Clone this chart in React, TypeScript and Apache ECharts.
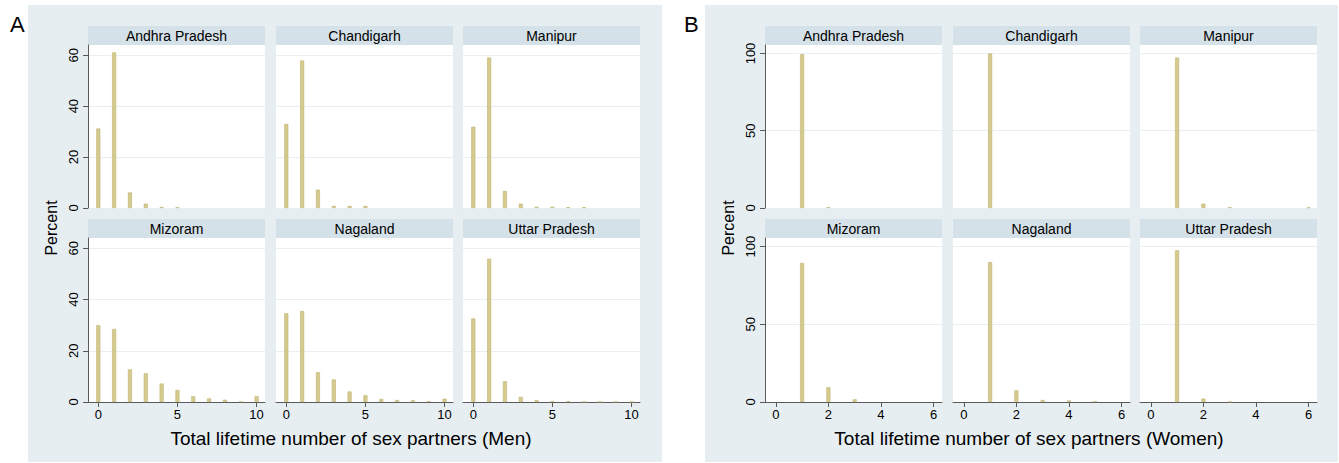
import React, { useEffect, useRef } from 'react';
import * as echarts from 'echarts';

// ---------- data ----------
const states = ['Andhra Pradesh', 'Chandigarh', 'Manipur', 'Mizoram', 'Nagaland', 'Uttar Pradesh'];

const menXTicks = [0, 5, 10];
const menYTicks = [0, 20, 40, 60];
const womenXTicks = [0, 2, 4, 6];
const womenYTicks = [0, 50, 100];

// Percent by number of partners (index = number of partners)
const menAndhraPradesh = [31.2, 61.1, 6.1, 1.7, 0.4, 0.3];
const menChandigarh = [33.0, 57.9, 7.2, 0.8, 0.8, 0.8];
const menManipur = [31.9, 59.1, 6.7, 1.7, 0.5, 0.5, 0.3, 0.3];
const menMizoram = [30.0, 28.5, 12.7, 11.2, 7.2, 4.7, 2.2, 1.4, 0.9, 0.2, 2.3];
const menNagaland = [34.6, 35.5, 11.6, 8.8, 4.1, 2.6, 1.2, 0.8, 0.7, 0.3, 1.3];
const menUttarPradesh = [32.6, 55.9, 8.1, 2.0, 0.7, 0.3, 0.3, 0.1, 0.1, 0.1, 0.1];

const womenAndhraPradesh = [0, 99.5, 0.5];
const womenChandigarh = [0, 100];
const womenManipur = [0, 97.4, 2.8, 0.5, 0, 0, 0.4];
const womenMizoram = [0, 89.5, 9.5, 1.7];
const womenNagaland = [0, 90.0, 7.5, 1.3, 1.0, 0.5];
const womenUttarPradesh = [0, 97.6, 2.2, 0.2];

const menData = [menAndhraPradesh, menChandigarh, menManipur, menMizoram, menNagaland, menUttarPradesh];
const womenData = [womenAndhraPradesh, womenChandigarh, womenManipur, womenMizoram, womenNagaland, womenUttarPradesh];

const FONT = '"Liberation Sans", Arial, Helvetica, sans-serif';

export default function App() {
  const ref = useRef<HTMLDivElement>(null);

  useEffect(() => {
    if (!ref.current) return;
    const chart = echarts.init(ref.current, undefined, { renderer: 'svg' });

    const colsA = [88, 276, 463];
    const colsB = [765, 953, 1140];
    const plotW = 177;
    const rowTops = [45, 238];
    const rowH = [163, 164];
    const headerH = 19;

    const grids: any[] = [];
    const xAxes: any[] = [];
    const yAxes: any[] = [];
    const series: any[] = [];
    const graphics: any[] = [];

    // panel backgrounds
    graphics.push({ type: 'rect', z: -10, shape: { x: 28, y: 5, width: 634, height: 457 }, style: { fill: '#e6eef2' } });
    graphics.push({ type: 'rect', z: -10, shape: { x: 705, y: 5, width: 633, height: 457 }, style: { fill: '#e6eef2' } });
    graphics.push({ type: 'text', x: 10, y: 13, style: { text: 'A', font: `22px ${FONT}`, fill: '#000' } });
    graphics.push({ type: 'text', x: 684, y: 13, style: { text: 'B', font: `22px ${FONT}`, fill: '#000' } });

    const panels = [
      { cols: colsA, data: menData, xMin: -0.65, xMax: 10.53, xTicks: menXTicks, yMax: 64, yInt: 20, yTicks: menYTicks },
      { cols: colsB, data: womenData, xMin: -0.41, xMax: 6.32, xTicks: womenXTicks, yMax: 105.5, yInt: 50, yTicks: womenYTicks },
    ];

    panels.forEach((p) => {
      for (let i = 0; i < 6; i++) {
        const r = Math.floor(i / 3);
        const c = i % 3;
        const left = p.cols[c];
        const top = rowTops[r];
        const idx = grids.length;
        grids.push({
          left, top, width: plotW, height: rowH[r],
          show: true, backgroundColor: '#ffffff', borderWidth: 0, containLabel: false,
        });
        // header strip
        graphics.push({ type: 'rect', z: -5, shape: { x: left, y: top - headerH, width: plotW, height: headerH }, style: { fill: '#d5e1e8' } });
        graphics.push({
          type: 'text', z: 5, x: left + plotW / 2, y: top - headerH / 2 + 0.5,
          style: { text: states[i], font: `14px ${FONT}`, fill: '#000', align: 'center', verticalAlign: 'middle' },
        });
        const bottomRow = r === 1;
        const leftCol = c === 0;
        if (leftCol) {
          graphics.push({
            type: 'line', z: 50, silent: true,
            shape: { x1: left + 0.5, y1: top, x2: left + 0.5, y2: top + rowH[r] },
            style: { stroke: '#5a5a5a', lineWidth: 1 },
          });
        }
        xAxes.push({
          gridIndex: idx, type: 'value', min: p.xMin, max: p.xMax,
          show: bottomRow,
          axisLine: { show: true, onZero: false, lineStyle: { color: '#5a5a5a', width: 1 } },
          axisTick: { show: true, length: 5, customValues: p.xTicks, lineStyle: { color: '#5a5a5a' } },
          axisLabel: { show: true, customValues: p.xTicks, color: '#000', fontSize: 13, fontFamily: FONT, margin: 6 },
          splitLine: { show: false },
        });
        yAxes.push({
          gridIndex: idx, type: 'value', min: 0, max: p.yMax, interval: p.yInt, position: 'left',
          axisLine: { show: leftCol, onZero: false, lineStyle: { color: '#5a5a5a', width: 1 } },
          axisTick: { show: leftCol, length: 5, customValues: p.yTicks, lineStyle: { color: '#5a5a5a' } },
          axisLabel: {
            show: leftCol, customValues: p.yTicks, rotate: 90, color: '#000', fontSize: 13, fontFamily: FONT, margin: 8,
          },
          splitLine: { show: true, lineStyle: { color: '#e8eff3', width: 1 } },
        });
        series.push({
          type: 'bar', xAxisIndex: idx, yAxisIndex: idx, barWidth: 4,
          data: p.data[i].map((v, k) => [k, v]).filter((d) => d[1] > 0),
          itemStyle: { color: '#d6cb8c', borderColor: '#bfb274', borderWidth: 0.6 },
          silent: true,
        });
      }
    });

    // axis titles
    graphics.push({
      type: 'text', x: 51, y: 228, rotation: Math.PI / 2,
      style: { text: 'Percent', font: `16px ${FONT}`, fill: '#000', align: 'center', verticalAlign: 'middle' },
    });
    graphics.push({
      type: 'text', x: 728, y: 228, rotation: Math.PI / 2,
      style: { text: 'Percent', font: `16px ${FONT}`, fill: '#000', align: 'center', verticalAlign: 'middle' },
    });
    graphics.push({
      type: 'text', x: 351, y: 438,
      style: { text: 'Total lifetime number of sex partners (Men)', font: `19px ${FONT}`, fill: '#000', align: 'center', verticalAlign: 'middle' },
    });
    graphics.push({
      type: 'text', x: 1029, y: 438,
      style: { text: 'Total lifetime number of sex partners (Women)', font: `19px ${FONT}`, fill: '#000', align: 'center', verticalAlign: 'middle' },
    });

    chart.setOption({
      animation: false,
      backgroundColor: '#ffffff',
      grid: grids,
      xAxis: xAxes,
      yAxis: yAxes,
      series,
      graphic: { elements: graphics },
    });

    return () => chart.dispose();
  }, []);

  return (
    <div
      ref={ref}
      style={{ position: 'fixed', left: 0, top: 0, width: 1339, height: 463 }}
    />
  );
}
